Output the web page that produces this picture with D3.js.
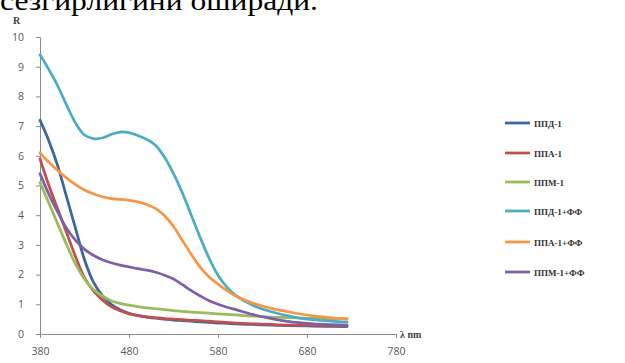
<!DOCTYPE html>
<html>
<head>
<meta charset="utf-8">
<script src="https://cdn.jsdelivr.net/npm/d3@7/dist/d3.min.js"></script>
<style>
  html, body { margin: 0; padding: 0; background: #fff; }
  svg { display: block; }
</style>
</head>
<body>
<svg id="chart" width="625" height="363"></svg>
<script>
// Wavelength samples (nm)
const wavelengths = [380,390,400,410,420,430,440,450,460,470,480,490,500,510,520,530,540,550,560,570,580,590,600,620,640,660,680,700,725];

// Reflectance R for each sample
const ppd1   = [7.2,6.5,5.65,4.6,3.55,2.5,1.75,1.3,1.0,0.82,0.7,0.62,0.57,0.53,0.5,0.47,0.45,0.43,0.41,0.39,0.37,0.36,0.34,0.32,0.3,0.28,0.27,0.26,0.25];
const ppa1   = [5.9,5.0,4.2,3.4,2.6,1.9,1.45,1.15,0.92,0.78,0.68,0.62,0.58,0.55,0.52,0.5,0.48,0.46,0.45,0.43,0.41,0.39,0.37,0.34,0.32,0.3,0.29,0.28,0.27];
const ppm1   = [5.1,4.4,3.7,3.0,2.35,1.85,1.5,1.28,1.12,1.03,0.97,0.92,0.88,0.85,0.82,0.79,0.76,0.74,0.72,0.7,0.68,0.66,0.64,0.6,0.57,0.55,0.53,0.52,0.52];
const ppd1ff = [9.4,8.9,8.35,7.7,7.1,6.7,6.58,6.6,6.72,6.8,6.78,6.68,6.55,6.35,5.95,5.4,4.75,4.0,3.25,2.55,1.98,1.58,1.3,0.95,0.75,0.6,0.5,0.45,0.4];
const ppa1ff = [6.1,5.78,5.5,5.25,5.03,4.85,4.72,4.62,4.56,4.53,4.5,4.45,4.36,4.22,3.98,3.62,3.15,2.68,2.25,1.92,1.68,1.46,1.28,1.03,0.86,0.74,0.64,0.57,0.5];
const ppm1ff = [5.4,4.7,4.1,3.55,3.15,2.85,2.65,2.5,2.4,2.32,2.26,2.2,2.15,2.08,1.98,1.85,1.66,1.46,1.28,1.12,1.0,0.9,0.82,0.65,0.52,0.42,0.36,0.32,0.3];

const seriesNames  = ["ППД-1","ППА-1","ППМ-1","ППД-1+ФФ","ППА-1+ФФ","ППМ-1+ФФ"];
const seriesValues = [ppd1, ppa1, ppm1, ppd1ff, ppa1ff, ppm1ff];
const seriesColors = ["#3a679d","#c0504d","#9bbb59","#4bacc6","#f79646","#7d60a6"];

const xTicks = [380,480,580,680,780];
const yTicks = [0,1,2,3,4,5,6,7,8,9,10];

const svg = d3.select("#chart");

// Cropped line of body text above the figure
svg.append("text")
  .attr("x", 0).attr("y", 10)
  .attr("textLength", 318).attr("lengthAdjust", "spacingAndGlyphs")
  .attr("font-family", "Liberation Serif, Times New Roman, serif")
  .attr("font-size", 27)
  .attr("fill", "#000")
  .text("сезгирлигини оширади.");

const x = d3.scaleLinear().domain([380, 780]).range([40, 396]);
const y = d3.scaleLinear().domain([0, 10]).range([334, 37]);

const axisColor = "#8c8c8c";
const labelColor = "#595959";

// Y axis
const gy = svg.append("g").attr("transform", "translate(40,0)")
  .call(d3.axisLeft(y).tickValues(yTicks).tickSize(4).tickPadding(12).tickSizeOuter(0));
gy.select(".domain").attr("stroke", axisColor);
gy.selectAll(".tick line").attr("stroke", axisColor);
gy.selectAll(".tick text").attr("fill", labelColor)
  .attr("font-family", "Open Sans, Liberation Sans, sans-serif").attr("font-size", 10.5);

// X axis
const gx = svg.append("g").attr("transform", "translate(0,334)")
  .call(d3.axisBottom(x).tickValues(xTicks).tickSize(4).tickPadding(10).tickSizeOuter(0));
gx.select(".domain").attr("stroke", axisColor);
gx.selectAll(".tick line").attr("stroke", axisColor);
gx.selectAll(".tick text").attr("fill", labelColor)
  .attr("font-family", "Open Sans, Liberation Sans, sans-serif").attr("font-size", 10.5);

// Axis titles
svg.append("text").attr("x", 13).attr("y", 24)
  .attr("font-family", "Liberation Serif, serif").attr("font-weight", "bold")
  .attr("font-size", 10).attr("fill", "#404040").text("R");
svg.append("text").attr("x", 400).attr("y", 338)
  .attr("font-family", "Liberation Serif, serif").attr("font-weight", "bold")
  .attr("font-size", 10).attr("fill", "#404040").text("λ nm");

// Curves
const line = d3.line()
  .x((d, i) => x(wavelengths[i]))
  .y(d => y(d))
  .curve(d3.curveCatmullRom.alpha(0.5));

svg.append("g").selectAll("path")
  .data(seriesValues)
  .join("path")
  .attr("d", d => line(d))
  .attr("fill", "none")
  .attr("stroke", (d, i) => seriesColors[i])
  .attr("stroke-width", 2.75)
  .attr("stroke-linejoin", "round")
  .attr("stroke-linecap", "round");

// Legend
const legendY = [123, 153, 182, 211, 242, 272];
const legend = svg.append("g").selectAll("g")
  .data(seriesNames)
  .join("g")
  .attr("transform", (d, i) => `translate(505,${legendY[i]})`);
legend.append("line")
  .attr("x1", 0).attr("x2", 25).attr("y1", 0).attr("y2", 0)
  .attr("stroke", (d, i) => seriesColors[i]).attr("stroke-width", 2.75);
legend.append("text")
  .attr("x", 29).attr("y", 3.5)
  .attr("font-family", "Liberation Serif, serif").attr("font-weight", "bold")
  .attr("font-size", 9).attr("fill", "#333")
  .text(d => d);
</script>
</body>
</html>
